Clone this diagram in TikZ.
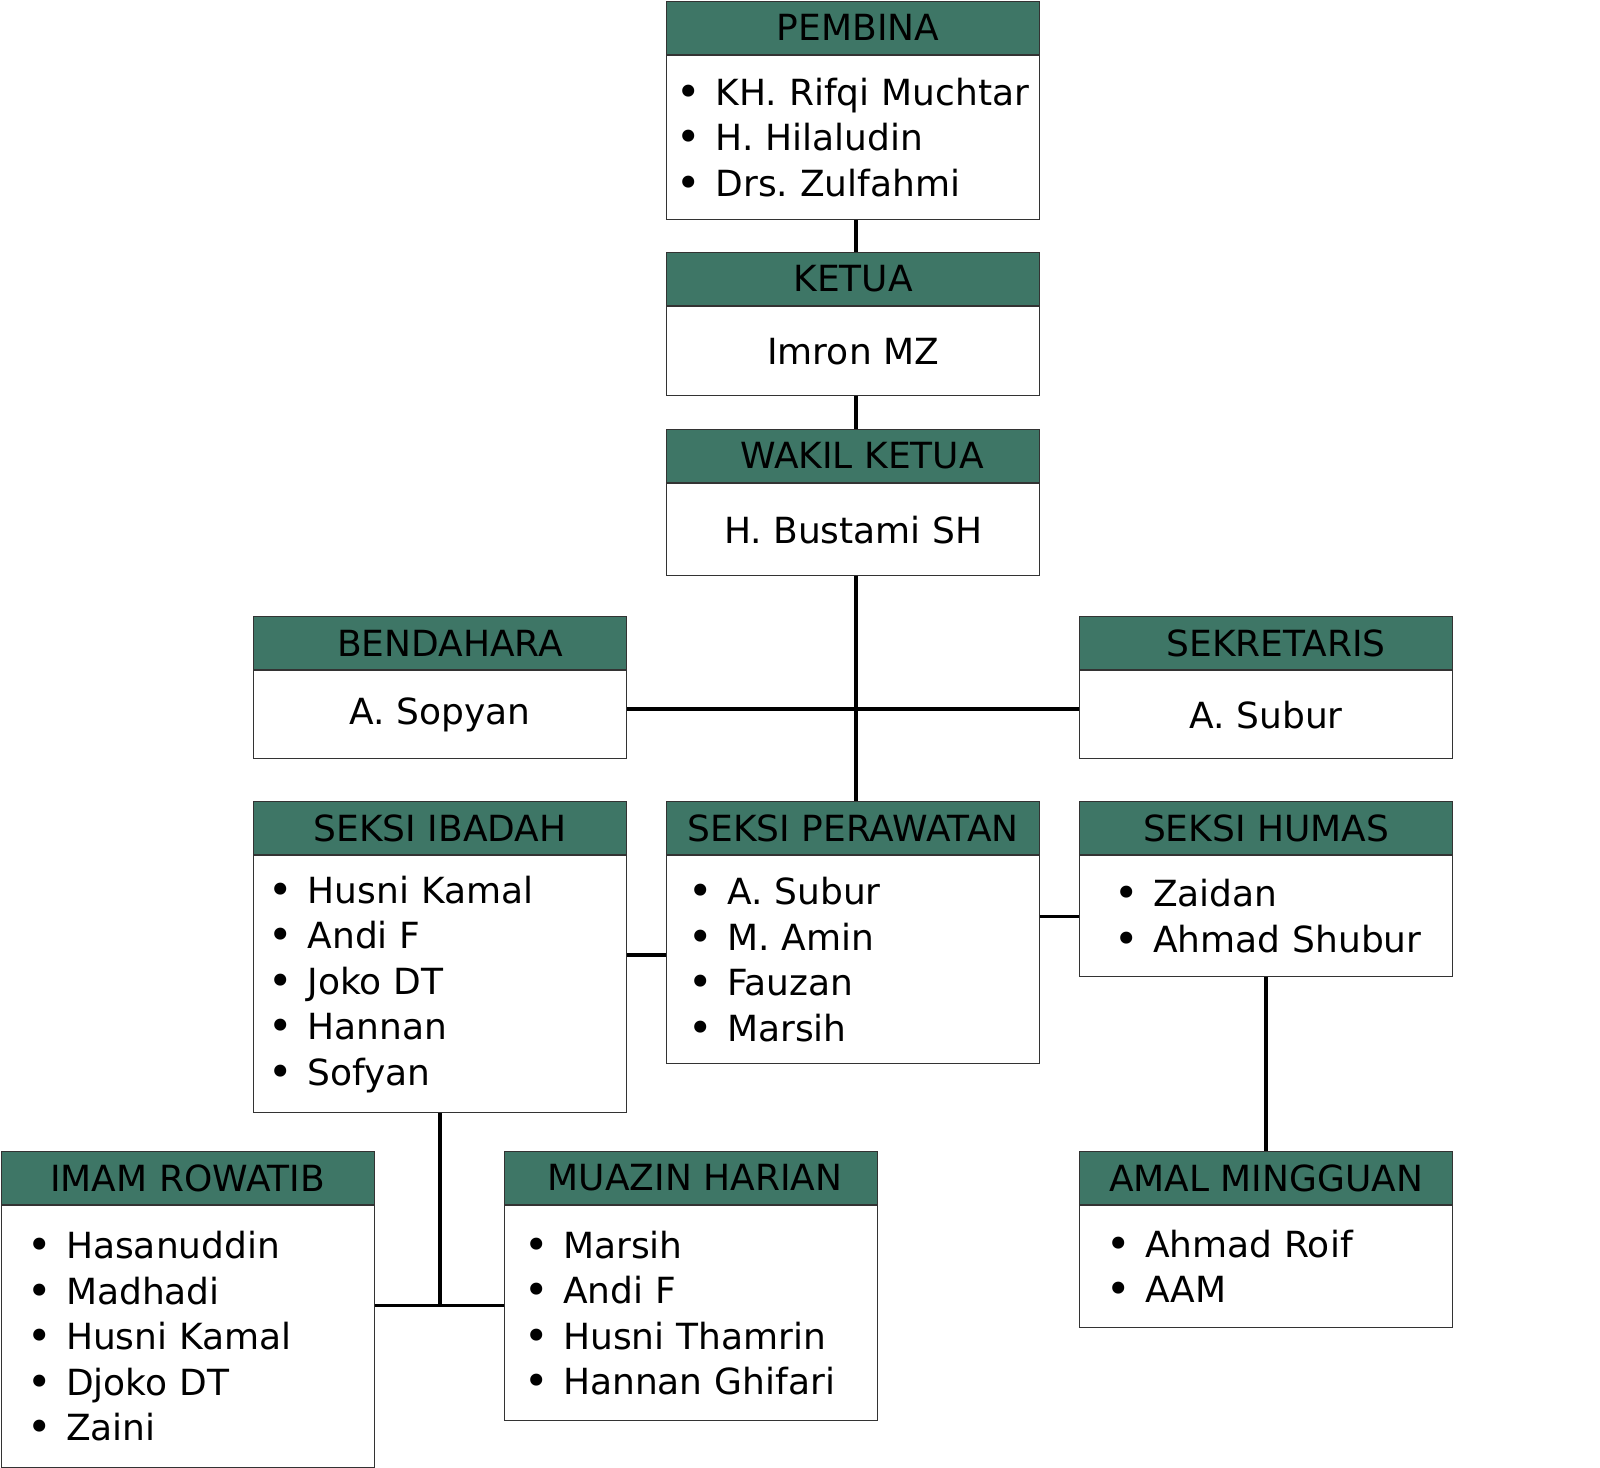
\documentclass[tikz,border=0pt]{standalone}
\usepackage{fontspec}
\setmainfont{DejaVu Sans}
\usetikzlibrary{positioning}
\definecolor{headgreen}{HTML}{3E7666}
\definecolor{edgegray}{HTML}{333333}
\newlength{\orgindent}
\newcommand{\orgbullet}{\hspace*{\orgindent}\makebox[0pt]{\raisebox{-1pt}{\scalebox{1.15}{\textbullet}}}\hspace*{26.5pt}}
\frenchspacing

\begin{document}
\begin{tikzpicture}[
    x=1pt, y=-1pt,
    every node/.style={font=\fontsize{36}{45.5}\selectfont, inner sep=0pt},
    head/.style={draw=edgegray, line width=1.2pt, fill=headgreen, anchor=north west, minimum width=373pt, minimum height=53pt},
    body/.style={draw=edgegray, line width=1.2pt, fill=white, align=left, minimum width=373pt},
    list/.style={text width=373pt, align=left, execute at begin node={\setlength{\orgindent}{#1pt}}},
    link/.style={line width=3.5pt}
]
\useasboundingbox[fill=white] (0,0) rectangle (1600,1467);

% top chain
\node[head] (pembina) at (666,0.6) {\hspace*{10pt}PEMBINA};
\node[body, list=22.5, minimum height=164pt, below=0pt of pembina] (pembinaBody) {\orgbullet KH. Rifqi Muchtar\\\orgbullet H. Hilaludin\\\orgbullet Drs. Zulfahmi};
\node[head] (ketua) at (666,252) {KETUA};
\node[body, minimum height=89pt, below=0pt of ketua] (ketuaBody) {Imron MZ};
\node[head] (wakil) at (666,429) {\hspace*{18pt}WAKIL KETUA};
\node[body, minimum height=92pt, below=0pt of wakil] (wakilBody) {H. Bustami SH};

% side posts
\node[head] (bendahara) at (253,616) {\hspace*{20pt}BENDAHARA};
\node[body, minimum height=88pt, below=0pt of bendahara] (bendaharaBody) {A. Sopyan};
\node[head] (sekretaris) at (1079,616) {\hspace*{20pt}SEKRETARIS};
\node[body, minimum height=88pt, below=0pt of sekretaris] (sekretarisBody) {A. Subur};

% sections
\node[head] (ibadah) at (253,801) {SEKSI IBADAH};
\node[body, list=27.5, minimum height=257pt, below=0pt of ibadah] (ibadahBody) {\orgbullet Husni Kamal\\\orgbullet Andi F\\\orgbullet Joko DT\\\orgbullet Hannan\\\orgbullet Sofyan};
\node[head] (perawatan) at (666,801) {SEKSI PERAWATAN};
\node[body, list=34, minimum height=208pt, below=0pt of perawatan] (perawatanBody) {\orgbullet A. Subur\\\orgbullet M. Amin\\\orgbullet Fauzan\\\orgbullet Marsih};
\node[head] (humas) at (1079,801) {SEKSI HUMAS};
\node[body, list=47, minimum height=121pt, below=0pt of humas] (humasBody) {\orgbullet Zaidan\\\orgbullet Ahmad Shubur};

% bottom row
\node[head] (imam) at (0.6,1151) {IMAM ROWATIB};
\node[body, list=38.4, minimum height=261.5pt, below=0pt of imam] (imamBody) {\orgbullet Hasanuddin\\\orgbullet Madhadi\\\orgbullet Husni Kamal\\\orgbullet Djoko DT\\\orgbullet Zaini};
\node[head] (muazin) at (504,1151) {\hspace*{8pt}MUAZIN HARIAN};
\node[body, list=32, minimum height=215pt, below=0pt of muazin] (muazinBody) {\orgbullet Marsih\\\orgbullet Andi F\\\orgbullet Husni Thamrin\\\orgbullet Hannan Ghifari};
\node[head] (amal) at (1079,1151) {AMAL MINGGUAN};
\node[body, list=39, minimum height=122pt, below=0pt of amal] (amalBody) {\orgbullet Ahmad Roif\\\orgbullet AAM};

\draw[link] ([xshift=3pt]pembinaBody.south) -- ([xshift=3pt]ketua.north);
\draw[link] ([xshift=3pt]ketuaBody.south) -- ([xshift=3pt]wakil.north);
\draw[link] ([xshift=3pt]wakilBody.south) -- ([xshift=3pt]perawatan.north);
\draw[link] ([yshift=6pt]bendaharaBody.east) -- ([yshift=6pt]sekretarisBody.west);
\draw[link] ([yshift=5pt]perawatanBody.west) -- ([yshift=5pt]perawatanBody.west -| ibadahBody.east);
\draw[link] (humasBody.west) -- (humasBody.west -| perawatanBody.east);
\draw[link] (ibadahBody.south) -- ([yshift=8pt]ibadahBody.south |- muazinBody.west);
\draw[link] ([yshift=8pt]muazinBody.west) -- ([yshift=8pt]muazinBody.west -| imamBody.east);
\draw[link] (humasBody.south) -- (amal.north);
\end{tikzpicture}
\end{document}
